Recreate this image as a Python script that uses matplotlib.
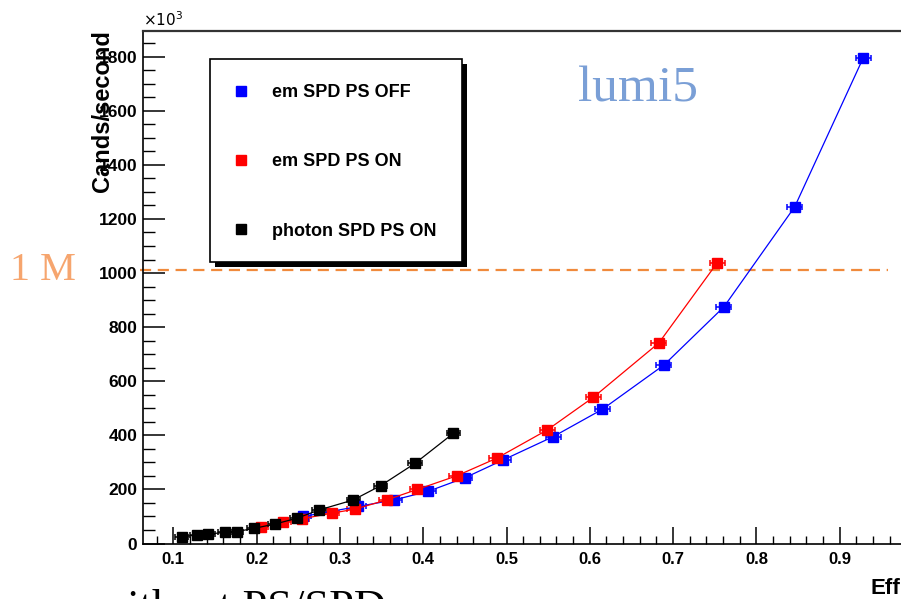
#!/usr/bin/env python3

import matplotlib
matplotlib.use("Agg")
import matplotlib.pyplot as plt
from matplotlib.lines import Line2D
from matplotlib.patches import Rectangle
from matplotlib.ticker import MultipleLocator

# em SPD PS OFF (blue)
off_eff = [0.256, 0.322, 0.365, 0.406, 0.450, 0.496, 0.556, 0.615, 0.689, 0.761, 0.846, 0.928]
off_rate = [100, 137, 161, 193, 243, 309, 395, 496, 660, 875, 1245, 1794]
off_xerr = 0.009

# em SPD PS ON (red)
on_eff = [0.205, 0.232, 0.254, 0.290, 0.318, 0.356, 0.393, 0.440, 0.488, 0.549, 0.604, 0.683, 0.753]
on_rate = [62, 78, 91, 112, 127, 161, 200, 250, 315, 420, 540, 742, 1038]
on_xerr = 0.009

# photon SPD PS ON (black)
ph_eff = [0.110, 0.128, 0.142, 0.162, 0.176, 0.197, 0.222, 0.248, 0.275, 0.316, 0.349, 0.390, 0.436]
ph_rate = [25, 31, 35, 41, 44, 56, 72, 93, 124, 161, 214, 296, 407]
ph_xerr = 0.008

labels = ["em SPD PS OFF", "em SPD PS ON", "photon SPD PS ON"]
colors = ["#0000ff", "#ff0000", "#000000"]
one_million = 1010   # in units of 10^3

fig = plt.figure(figsize=(9.01, 5.99), dpi=100)
ax = fig.add_axes([143/901, 55.5/599, 780/901, 512.5/599])

series = [(off_eff, off_rate, off_xerr), (on_eff, on_rate, on_xerr), (ph_eff, ph_rate, ph_xerr)]
for (x, y, xe), c in zip(series, colors):
    ax.errorbar(x, y, xerr=xe, color=c, marker='s', markersize=7.2, lw=0.9,
                elinewidth=1.1, capsize=2.2, capthick=1.1, zorder=3)

ax.set_xlim(0.0636, 1.0)
ax.set_ylim(0, 1895)

# 1 M reference line
ax.hlines(one_million, 0.060, 0.958, colors='#f08a3c', linestyles=(0, (5, 3)),
          lw=1.6, clip_on=False, zorder=2)

ax.xaxis.set_major_locator(MultipleLocator(0.1))
ax.xaxis.set_minor_locator(MultipleLocator(0.02))
ax.yaxis.set_major_locator(MultipleLocator(200))
ax.yaxis.set_minor_locator(MultipleLocator(50))
ax.tick_params(axis='x', which='major', direction='in', length=12, width=1.1, pad=6)
ax.tick_params(axis='x', which='minor', direction='in', length=6, width=1.0)
ax.tick_params(axis='y', which='major', direction='in', length=16, width=1.1, pad=4)
ax.tick_params(axis='y', which='minor', direction='in', length=8.5, width=1.0)
ax.set_xticks([0.1, 0.2, 0.3, 0.4, 0.5, 0.6, 0.7, 0.8, 0.9])
ax.set_xticklabels(["0.1", "0.2", "0.3", "0.4", "0.5", "0.6", "0.7", "0.8", "0.9"],
                   fontweight='bold', fontsize=12, family='Liberation Sans')
ax.set_yticks(range(0, 1801, 200))
ax.set_yticklabels([str(v) for v in range(0, 1801, 200)],
                   fontweight='bold', fontsize=12.5, family='Liberation Sans')

ax.spines['right'].set_visible(False)
for s in ['left', 'bottom']:
    ax.spines[s].set_linewidth(1.2)
ax.spines['top'].set_linewidth(1.6)
ax.spines['top'].set_color('#333333')

# legend box with ROOT style shadow
ax.add_patch(Rectangle((215/901, 1 - 267/599), 252/901, 203/599, transform=fig.transFigure,
                       facecolor='black', edgecolor='none', zorder=6, clip_on=False))
ax.add_patch(Rectangle((210/901, 1 - 262/599), 252/901, 203/599, transform=fig.transFigure,
                       facecolor='white', edgecolor='black', lw=1.2, zorder=7, clip_on=False))
handles = [Line2D([], [], color=c, marker='s', ls='none', markersize=7.5) for c in colors]
leg = ax.legend(handles, labels, loc='upper left', bbox_to_anchor=(232/901, 1 - 84/599),
                bbox_transform=fig.transFigure, frameon=False, borderpad=0, borderaxespad=0,
                handlelength=1.0, handletextpad=1.2, labelspacing=2.9,
                prop={'family': 'Liberation Sans', 'weight': 'bold', 'size': 13})
leg.set_zorder(8)

# axis titles
fig.text(102/901, 1 - 111/599, "Cands/second", rotation=90, ha='center', va='center',
         fontsize=17, fontweight='bold', family='Liberation Sans')
fig.text(900/901, 1 - 588/599, "Eff", ha='right', va='center',
         fontsize=16, fontweight='bold', family='Liberation Sans')
fig.text(143/901, 1 - 26/599, r"$\times10^{3}$", ha='left', va='baseline', fontsize=11,
         family='Liberation Sans')

# annotations
fig.text(578/901, 1 - 102/599, "lumi5", ha='left', va='baseline', fontsize=37,
         family='Liberation Serif', color='#7a9fd6')
fig.text(10/901, 1 - 271/599, "1 M", ha='left', va='center', fontsize=29,
         family='Liberation Serif', color='#f6a56e')
fig.text(95/901, 1 - 620/599, "without PS/SPD", ha='left', va='baseline', fontsize=32,
         family='Liberation Serif', color='black')

fig.savefig("out.png", dpi=100)
